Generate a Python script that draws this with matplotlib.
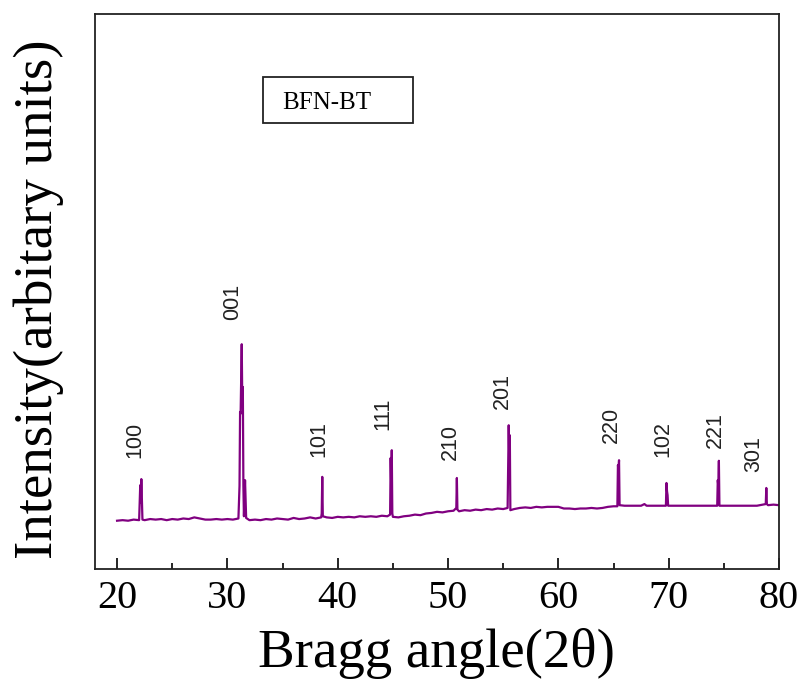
import matplotlib
matplotlib.use("Agg")
import matplotlib.pyplot as plt
from matplotlib.patches import Rectangle
from matplotlib.ticker import MultipleLocator

# ---- data (2theta in degrees, intensity in arbitrary units) ----
two_theta = [
    20.0, 20.5, 21.0, 21.5, 22.0, 22.1, 22.15, 22.2, 22.3, 22.5,
    23.0, 23.5, 24.0, 24.5, 25.0, 25.5, 26.0, 26.5, 27.0, 27.5,
    28.0, 28.5, 29.0, 29.5, 30.0, 30.5, 31.0, 31.1, 31.15, 31.2,
    31.3, 31.35, 31.4, 31.45, 31.5, 31.6, 31.7, 32.0, 32.5, 33.0,
    33.5, 34.0, 34.5, 35.0, 35.5, 36.0, 36.5, 37.0, 37.5, 38.0,
    38.5, 38.55, 38.6, 38.65, 39.0, 39.5, 40.0, 40.5, 41.0, 41.5,
    42.0, 42.5, 43.0, 43.5, 44.0, 44.5, 44.75, 44.8, 44.85, 44.9,
    44.95, 45.0, 45.5, 46.0, 46.5, 47.0, 47.5, 48.0, 48.5, 49.0,
    49.5, 50.0, 50.5, 50.75, 50.8, 50.85, 51.0, 51.5, 52.0, 52.5,
    53.0, 53.5, 54.0, 54.5, 55.0, 55.4, 55.5, 55.55, 55.6, 55.65,
    56.0, 56.5, 57.0, 57.5, 58.0, 58.5, 59.0, 59.5, 60.0, 60.5,
    61.0, 61.5, 62.0, 62.5, 63.0, 63.5, 64.0, 64.5, 65.0, 65.35,
    65.4, 65.45, 65.5, 65.55, 66.0, 66.5, 67.0, 67.5, 67.8, 68.0,
    68.5, 69.0, 69.5, 69.75, 69.8, 69.85, 69.9, 69.95, 70.5, 71.0,
    71.5, 72.0, 72.5, 73.0, 73.5, 74.0, 74.4, 74.45, 74.5, 74.55,
    74.6, 75.0, 75.5, 76.0, 76.5, 77.0, 77.5, 78.0, 78.5, 78.8,
    78.85, 78.9, 79.0, 79.5, 80.0,
]
intensity = [
    87, 88, 87, 89, 88, 151, 120, 162, 89, 88,
    90, 89, 90, 88, 90, 89, 91, 90, 93, 91,
    89, 89, 90, 89, 90, 89, 91, 150, 283, 280,
    405, 300, 328, 150, 95, 160, 92, 88, 89, 88,
    90, 89, 91, 90, 89, 92, 90, 91, 93, 91,
    93, 100, 166, 95, 93, 92, 94, 93, 94, 93,
    95, 94, 95, 94, 96, 95, 98, 200, 150, 214,
    100, 94, 93, 95, 96, 98, 97, 100, 101, 103,
    102, 104, 105, 110, 164, 107, 104, 106, 105, 107,
    106, 108, 107, 109, 108, 110, 259, 200, 241, 106,
    108, 110, 111, 110, 112, 111, 112, 112, 112, 109,
    109, 108, 109, 109, 110, 109, 110, 112, 113, 113,
    187, 180, 196, 115, 114, 114, 114, 114, 117, 114,
    114, 114, 114, 114, 155, 140, 133, 114, 114, 114,
    114, 114, 114, 114, 114, 114, 114, 160, 150, 195,
    114, 114, 114, 114, 114, 114, 114, 114, 116, 117,
    146, 117, 115, 116, 115,
]

peak_labels = ["100", "001", "101", "111", "210", "201", "220", "102", "221", "301"]
label_x = [21.65, 30.45, 38.27, 44.1, 50.2, 54.97, 64.78, 69.46, 74.23, 77.7]
label_y = [200, 449, 202, 250, 196, 288, 227, 202, 218, 175]

x_ticks = [20, 30, 40, 50, 60, 70, 80]

# ---- figure ----
fig = plt.figure(figsize=(8.01, 6.81), dpi=100)
ax = fig.add_axes([95 / 801, 1 - 569 / 681, (779 - 95) / 801, (569 - 14) / 681])

ax.plot(two_theta, intensity, color="#800080", linewidth=1.6)

for lab, lx, ly in zip(peak_labels, label_x, label_y):
    ax.text(lx, ly, lab, rotation=90, ha="center", va="bottom",
            fontsize=15.5, family="Liberation Sans", color="#222222")

ax.set_xlim(18, 80)
ax.set_ylim(0, 1000)
ax.set_xticks(x_ticks)
ax.xaxis.set_minor_locator(MultipleLocator(5))
ax.set_yticks([])
ax.tick_params(axis="x", which="major", direction="in", length=8, width=1.2,
               labelsize=29, pad=8)
ax.tick_params(axis="x", which="minor", direction="in", length=4, width=1.2)
for lbl in ax.get_xticklabels():
    lbl.set_family("Liberation Serif")
for sp in ax.spines.values():
    sp.set_linewidth(1.3)
    sp.set_color("#222222")

ax.set_xlabel("Bragg angle(2θ)", fontsize=39.5, family="Liberation Serif")
ax.xaxis.label.set_va("baseline")
ax.xaxis.set_label_coords(0.4993, -0.1766)
ax.set_ylabel("Intensity(arbitary units)", fontsize=39.5, family="Liberation Serif")
ax.yaxis.label.set_va("baseline")
ax.yaxis.label.set_rotation_mode("anchor")
ax.yaxis.set_label_coords(-0.0629, 0.4865)

# sample label box
ax.add_patch(Rectangle((0.2456, 0.8036), 0.2193, 0.0829, transform=ax.transAxes,
                       fill=False, edgecolor="#222222", linewidth=1.3))
ax.text(0.2734, 0.829, "BFN-BT", transform=ax.transAxes, fontsize=18,
        family="Liberation Serif", ha="left", va="baseline")

fig.savefig("out.png", dpi=100)
